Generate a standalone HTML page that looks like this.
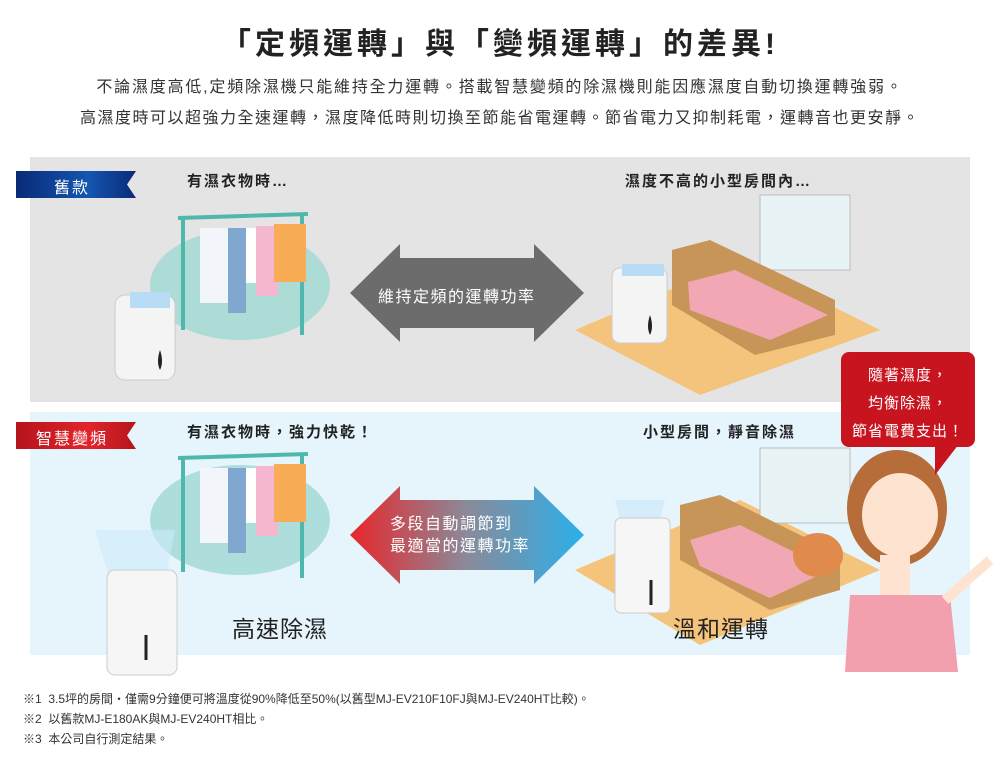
<!DOCTYPE html>
<html><head><meta charset="utf-8"><style>
body{margin:0;width:1000px;height:768px;background:#fff;position:relative;overflow:hidden;font-family:"Liberation Sans","Noto Sans CJK TC",sans-serif;color:#333}
.a{position:absolute;white-space:nowrap}
.h{font-weight:bold;font-size:15px;color:#222;letter-spacing:2px}
</style></head><body>
<div class="a" style="left:0;width:1000px;top:19px;text-align:center;font-size:30px;font-weight:bold;color:#222;letter-spacing:4px">「定頻運轉」與「變頻運轉」的差異!</div>
<div class="a" style="left:0;width:1000px;top:73px;text-align:center;font-size:16px;color:#333;letter-spacing:1.8px">不論濕度高低,定頻除濕機只能維持全力運轉。搭載智慧變頻的除濕機則能因應濕度自動切換運轉強弱。</div>
<div class="a" style="left:0;width:1000px;top:104px;text-align:center;font-size:16px;color:#333;letter-spacing:1.5px">高濕度時可以超強力全速運轉，濕度降低時則切換至節能省電運轉。節省電力又抑制耗電，運轉音也更安靜。</div>

<div class="a" style="left:30px;top:157px;width:940px;height:245px;background:#e4e4e4"></div>
<div class="a" style="left:30px;top:412px;width:940px;height:243px;background:#e6f4fc"></div>

<svg class="a" style="left:0;top:0" width="1000" height="768">
<defs>
<linearGradient id="bl" x1="0" x2="1"><stop offset="0" stop-color="#0a2a78"/><stop offset=".6" stop-color="#1456b0"/><stop offset="1" stop-color="#0a2a78"/></linearGradient>
<linearGradient id="rd" x1="0" x2="1"><stop offset="0" stop-color="#b5141c"/><stop offset=".6" stop-color="#e2252c"/><stop offset="1" stop-color="#b5141c"/></linearGradient>
<linearGradient id="ar" x1="0" x2="1"><stop offset="0" stop-color="#e8262a"/><stop offset=".5" stop-color="#8a8a9a"/><stop offset="1" stop-color="#2ab0ea"/></linearGradient>
</defs>
<polygon points="16,171 136,171 127,184.5 136,198 16,198" fill="url(#bl)"/>
<polygon points="16,422 136,422 127,435.5 136,449 16,449" fill="url(#rd)"/>
<polygon points="350,293 400,244 400,258 534,258 534,244 584,293 534,342 534,328 400,328 400,342" fill="#6c6c6c"/>
<polygon points="350,535 400,486 400,500 534,500 534,486 584,535 534,584 534,570 400,570 400,584" fill="url(#ar)"/>
<ellipse cx="240" cy="285" rx="90" ry="55" fill="#9fd8d2" opacity=".8"/>
<ellipse cx="240" cy="520" rx="90" ry="55" fill="#9fd8d2" opacity=".8"/>
<g stroke="#4fb8ac" stroke-width="4" fill="none">
<line x1="178" y1="218" x2="308" y2="214"/><line x1="183" y1="218" x2="183" y2="330"/><line x1="302" y1="216" x2="302" y2="335"/>
<line x1="178" y1="458" x2="308" y2="454"/><line x1="183" y1="458" x2="183" y2="572"/><line x1="302" y1="456" x2="302" y2="578"/>
</g>
<g>
<rect x="200" y="228" width="28" height="75" fill="#f2f6fb"/><rect x="228" y="228" width="18" height="85" fill="#7fa7cf"/><rect x="246" y="228" width="12" height="55" fill="#fff"/><rect x="256" y="226" width="22" height="70" fill="#f4b7cf"/><rect x="274" y="224" width="32" height="58" fill="#f7ac55"/>
<rect x="200" y="468" width="28" height="75" fill="#f2f6fb"/><rect x="228" y="468" width="18" height="85" fill="#7fa7cf"/><rect x="246" y="468" width="12" height="55" fill="#fff"/><rect x="256" y="466" width="22" height="70" fill="#f4b7cf"/><rect x="274" y="464" width="32" height="58" fill="#f7ac55"/>
</g>
<!-- rooms -->
<polygon points="575,330 740,260 880,330 700,395" fill="#f5c47c"/>
<polygon points="575,570 740,500 880,570 700,645" fill="#f5c47c"/>
<rect x="760" y="195" width="90" height="75" fill="#e8f3f6" stroke="#bbb"/>
<rect x="760" y="448" width="90" height="75" fill="#e8f3f6" stroke="#bbb"/>
<polygon points="672,250 710,240 835,300 835,335 755,355 672,305" fill="#c89559"/>
<polygon points="688,282 735,270 828,315 770,340 690,310" fill="#f2a8b4"/>
<polygon points="680,505 720,495 840,555 840,590 770,610 680,560" fill="#c89559"/>
<polygon points="690,540 740,525 830,570 770,598 700,566" fill="#f2a8b4"/>
<!-- dehumidifiers -->
<rect x="115" y="295" width="60" height="85" rx="10" fill="#f4f4f4" stroke="#ccc"/><rect x="130" y="292" width="40" height="16" fill="#b9dcf6"/>
<path d="M160 350q-4 12 0 20q4-8 0-20z" fill="#222"/>
<rect x="612" y="268" width="55" height="75" rx="8" fill="#f4f4f4" stroke="#ccc"/><rect x="622" y="264" width="42" height="12" fill="#b9dcf6"/>
<path d="M650 315q-4 12 0 20q4-8 0-20z" fill="#222"/>
<polygon points="95,530 175,530 165,580 110,580" fill="#cde9fa" opacity=".6"/>
<rect x="107" y="570" width="70" height="105" rx="8" fill="#f6f6f6" stroke="#ccc"/>
<line x1="146" y1="635" x2="146" y2="660" stroke="#222" stroke-width="3"/>
<polygon points="615,500 665,500 660,520 620,520" fill="#cde9fa" opacity=".7"/>
<rect x="615" y="518" width="55" height="95" rx="6" fill="#f6f6f6" stroke="#ccc"/>
<line x1="651" y1="580" x2="651" y2="605" stroke="#222" stroke-width="3"/>
<!-- woman -->
<ellipse cx="897" cy="508" rx="50" ry="58" fill="#b66d3a"/>
<ellipse cx="900" cy="515" rx="38" ry="42" fill="#fde3d0"/>
<polygon points="850,595 950,595 958,672 845,672" fill="#f2a0ad"/>
<rect x="880" y="555" width="30" height="40" fill="#fde3d0"/>
<ellipse cx="818" cy="555" rx="25" ry="22" fill="#e08a4e"/>
<line x1="945" y1="600" x2="990" y2="560" stroke="#fde3d0" stroke-width="10"/>
<rect x="841" y="352" width="134" height="95" rx="8" fill="#c8141e"/>
<polygon points="935,440 962,440 935,475" fill="#c8141e"/>
</svg>

<div class="a" style="left:16px;width:112px;top:174px;text-align:center;color:#fff;font-size:16px;letter-spacing:2px">舊款</div>
<div class="a" style="left:16px;width:112px;top:425px;text-align:center;color:#fff;font-size:16px;letter-spacing:2px">智慧變頻</div>
<div class="a h" style="left:187px;top:170px">有濕衣物時…</div>
<div class="a h" style="left:625px;top:170px">濕度不高的小型房間內…</div>
<div class="a h" style="left:187px;top:421px">有濕衣物時，強力快乾！</div>
<div class="a h" style="left:643px;top:421px">小型房間，靜音除濕</div>
<div class="a" style="left:378px;top:283px;color:#fff;font-size:16px;letter-spacing:1.5px">維持定頻的運轉功率</div>
<div class="a" style="left:390px;top:514px;color:#fff;font-size:16px;letter-spacing:1.5px;line-height:22px">多段自動調節到<br>最適當的運轉功率</div>
<div class="a" style="left:232px;top:610px;font-size:23px;color:#222;letter-spacing:1px">高速除濕</div>
<div class="a" style="left:673px;top:610px;font-size:23px;color:#222;letter-spacing:1px">溫和運轉</div>
<div class="a" style="left:841px;width:134px;top:362px;text-align:center;color:#fff;font-size:15px;line-height:28px;letter-spacing:1px">隨著濕度，<br>均衡除濕，<br>節省電費支出！</div>
<div class="a" style="left:23px;top:689px;font-size:12px;color:#333;line-height:20px">※1&nbsp; 3.5坪的房間・僅需9分鐘便可將溫度從90%降低至50%(以舊型MJ-EV210F10FJ與MJ-EV240HT比較)。<br>※2&nbsp; 以舊款MJ-E180AK與MJ-EV240HT相比。<br>※3&nbsp; 本公司自行測定結果。</div>
</body></html>
